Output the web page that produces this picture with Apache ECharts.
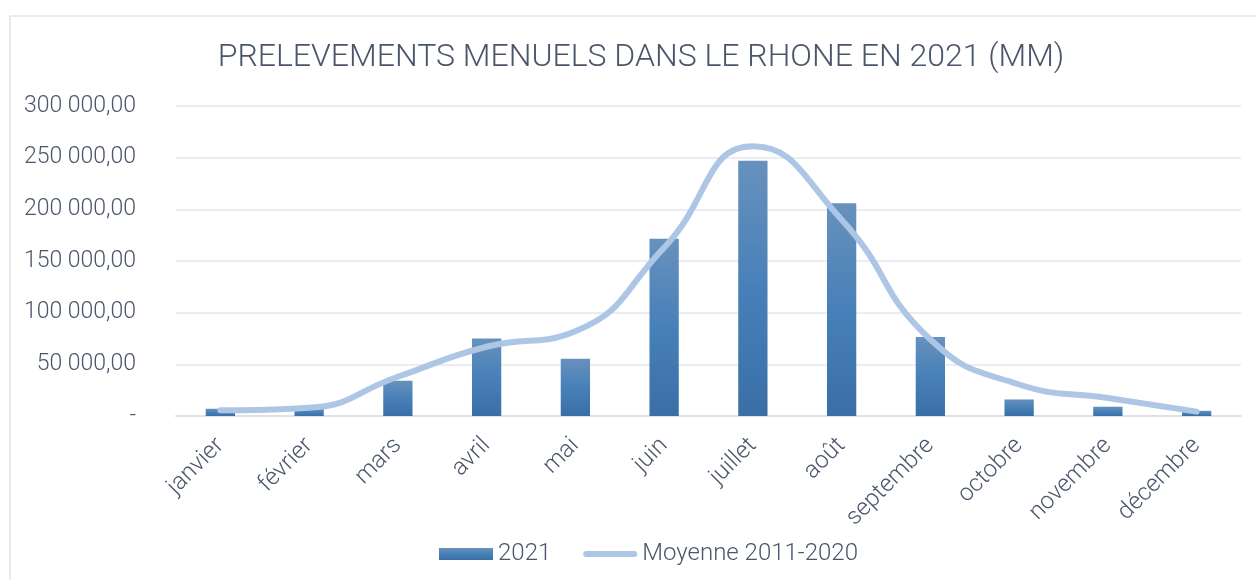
<!DOCTYPE html>
<html>
<head>
<meta charset="utf-8">
<script src="https://cdn.jsdelivr.net/npm/echarts@6/dist/echarts.min.js"></script>
<style>
  html, body { margin: 0; padding: 0; background: #ffffff; }
  #chart { width: 1256px; height: 580px; }
</style>
</head>
<body>
<div id="chart"></div>
<script>
  // données
  var mois = ['janvier', 'février', 'mars', 'avril', 'mai', 'juin', 'juillet', 'août', 'septembre', 'octobre', 'novembre', 'décembre'];
  var prelevements2021 = [7000, 7500, 34000, 75000, 55500, 171500, 247000, 206000, 76500, 16000, 9000, 5000];
  var moyenne20112020 = [5500, 8000, 38000, 67000, 82000, 163000, 261000, 190000, 74000, 30500, 17500, 4200];

  var textColor = '#4a566a';
  var fontName = 'Roboto';

  // 250000 -> "250 000,00", 0 -> "-"
  function formatVal(v) {
    if (v === 0) return '-';
    var s = String(Math.round(v));
    return s.replace(/\B(?=(\d{3})+(?!\d))/g, ' ') + ',00';
  }

  var chart = echarts.init(document.getElementById('chart'));
  chart.setOption({
    animation: false,
    backgroundColor: '#ffffff',
    textStyle: { fontFamily: fontName },
    graphic: [{
      type: 'rect',
      shape: { x: 10, y: 16, width: 1300, height: 620 },
      style: { fill: 'none', stroke: '#dfe4ea', lineWidth: 1.5 },
      silent: true
    }],
    title: {
      text: 'PRELEVEMENTS MENUELS DANS LE RHONE EN 2021 (MM)',
      left: 636,
      textAlign: 'center',
      top: 37,
      textStyle: { fontSize: 32, fontWeight: 300, color: textColor, fontFamily: fontName }
    },
    legend: {
      top: 537,
      left: 434,
      itemWidth: 54,
      itemHeight: 12,
      itemGap: 32,
      textStyle: { fontSize: 24, fontWeight: 300, color: textColor, fontFamily: fontName },
      data: [
        { name: '2021', icon: 'rect' },
        { name: 'Moyenne 2011-2020', icon: 'path://M3,0 L53,0 A3,3 0 0 1 53,6 L3,6 A3,3 0 0 1 3,0 Z' }
      ]
    },
    grid: { left: 176, right: 15, top: 106, bottom: 164, containLabel: false },
    xAxis: {
      type: 'category',
      data: mois,
      axisTick: { show: false },
      axisLine: { lineStyle: { color: '#dde2e9', width: 2 } },
      axisLabel: {
        rotate: 45,
        margin: 26,
        fontSize: 24,
        fontWeight: 300,
        color: textColor,
        fontFamily: fontName
      }
    },
    yAxis: {
      type: 'value',
      min: 0,
      max: 300000,
      interval: 50000,
      axisLine: { show: false },
      axisTick: { show: false },
      splitLine: { lineStyle: { color: '#e3e7ed', width: 1.5 } },
      axisLabel: {
        margin: 40,
        fontSize: 23,
        fontWeight: 300,
        color: textColor,
        fontFamily: fontName,
        formatter: formatVal
      }
    },
    series: [
      {
        name: '2021',
        type: 'bar',
        data: prelevements2021,
        barWidth: '33%',
        itemStyle: {
          color: new echarts.graphic.LinearGradient(0, 0, 0, 1, [
            { offset: 0, color: '#6891bd' },
            { offset: 0.5, color: '#4780b8' },
            { offset: 1, color: '#3a6fa6' }
          ])
        }
      },
      {
        name: 'Moyenne 2011-2020',
        type: 'line',
        data: moyenne20112020,
        smooth: 0.5,
        symbol: 'none',
        lineStyle: { color: '#adc6e6', width: 6, cap: 'round' },
        itemStyle: { color: '#adc6e6' }
      }
    ]
  });
</script>
</body>
</html>
